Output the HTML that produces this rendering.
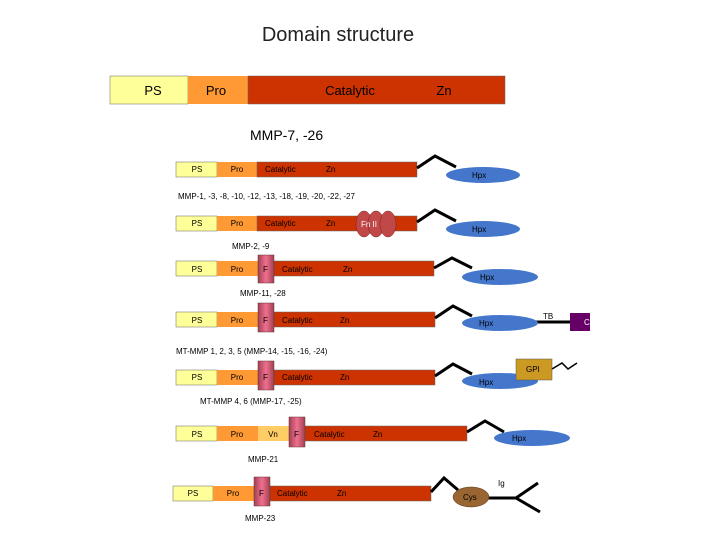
<!DOCTYPE html>
<html><head><meta charset="utf-8"><style>body{margin:0;background:#fff}svg{display:block;font-family:"Liberation Sans",sans-serif}</style></head><body>
<svg width="720" height="540" viewBox="0 0 720 540">
<defs><linearGradient id="f" x1="0" x2="1"><stop offset="0" stop-color="#a04050"/><stop offset=".5" stop-color="#f07090"/><stop offset="1" stop-color="#a04050"/></linearGradient></defs>
<text x="338" y="41" font-size="20" text-anchor="middle" fill="#222">Domain structure</text>
<rect x="110" y="76" width="78" height="28" fill="#ffff99" stroke="#666" stroke-width=".5"/>
<rect x="188" y="76" width="60" height="28" fill="#ff9933"/>
<rect x="248" y="76" width="257" height="28" fill="#cc3300" stroke="#666" stroke-width=".5"/>
<text x="153" y="95" font-size="13" text-anchor="middle">PS</text>
<text x="216" y="95" font-size="13" text-anchor="middle">Pro</text>
<text x="350" y="95" font-size="13" text-anchor="middle">Catalytic</text>
<text x="444" y="95" font-size="13" text-anchor="middle">Zn</text>
<text x="250" y="140" font-size="14">MMP-7, -26</text>
<g font-size="8">
<!-- row1 -->
<g><rect x="176" y="162" width="41" height="15" fill="#ffff99" stroke="#666" stroke-width=".5"/><rect x="217" y="162" width="40" height="15" fill="#ff9933"/><rect x="257" y="162" width="160" height="15" fill="#cc3300" stroke="#666" stroke-width=".5"/>
<text x="197" y="172" text-anchor="middle">PS</text><text x="237" y="172" text-anchor="middle">Pro</text><text x="265" y="172">Catalytic</text><text x="326" y="172">Zn</text>
<polyline points="417,168 435,156 456,167" fill="none" stroke="#000" stroke-width="3"/><ellipse cx="483" cy="175" rx="37" ry="8" fill="#4477cc"/><text x="472" y="178">Hpx</text></g>
<text x="178" y="199">MMP-1, -3, -8, -10, -12, -13, -18, -19, -20, -22, -27</text>
<!-- row2 -->
<g><rect x="176" y="216" width="41" height="15" fill="#ffff99" stroke="#666" stroke-width=".5"/><rect x="217" y="216" width="40" height="15" fill="#ff9933"/><rect x="257" y="216" width="160" height="15" fill="#cc3300" stroke="#666" stroke-width=".5"/>
<text x="197" y="226" text-anchor="middle">PS</text><text x="237" y="226" text-anchor="middle">Pro</text><text x="265" y="226">Catalytic</text><text x="326" y="226">Zn</text>
<ellipse cx="364" cy="224" rx="8" ry="13" fill="#c04848" stroke="#802020" stroke-width=".5"/><ellipse cx="376" cy="224" rx="8" ry="13" fill="#c04848" stroke="#802020" stroke-width=".5"/><ellipse cx="388" cy="224" rx="8" ry="13" fill="#c04848" stroke="#802020" stroke-width=".5"/><text x="361" y="227" fill="#fff">Fn II</text>
<polyline points="417,222 435,210 456,221" fill="none" stroke="#000" stroke-width="3"/><ellipse cx="483" cy="229" rx="37" ry="8" fill="#4477cc"/><text x="472" y="232">Hpx</text></g>
<text x="232" y="249">MMP-2, -9</text>
<!-- row3 -->
<g><rect x="176" y="261" width="41" height="15" fill="#ffff99" stroke="#666" stroke-width=".5"/><rect x="217" y="261" width="41" height="15" fill="#ff9933"/><rect x="274" y="261" width="160" height="15" fill="#cc3300" stroke="#666" stroke-width=".5"/><rect x="258" y="255" width="16" height="28" fill="url(#f)" stroke="#633" stroke-width=".5"/>
<text x="197" y="272" text-anchor="middle">PS</text><text x="237" y="272" text-anchor="middle">Pro</text><text x="263" y="272">F</text><text x="282" y="272">Catalytic</text><text x="343" y="272">Zn</text>
<polyline points="434,268 452,258 472,268" fill="none" stroke="#000" stroke-width="3"/><ellipse cx="500" cy="277" rx="38" ry="8" fill="#4477cc"/><text x="480" y="280">Hpx</text></g>
<text x="240" y="296">MMP-11, -28</text>
<!-- row4 -->
<g><rect x="176" y="312" width="41" height="15" fill="#ffff99" stroke="#666" stroke-width=".5"/><rect x="217" y="312" width="41" height="15" fill="#ff9933"/><rect x="274" y="312" width="161" height="15" fill="#cc3300" stroke="#666" stroke-width=".5"/><rect x="258" y="303" width="16" height="29" fill="url(#f)" stroke="#633" stroke-width=".5"/>
<text x="197" y="323" text-anchor="middle">PS</text><text x="237" y="323" text-anchor="middle">Pro</text><text x="263" y="323">F</text><text x="282" y="323">Catalytic</text><text x="340" y="323">Zn</text>
<polyline points="435,318 453,306 472,316" fill="none" stroke="#000" stroke-width="3"/><line x1="535" y1="322" x2="570" y2="322" stroke="#000" stroke-width="3"/><ellipse cx="500" cy="323" rx="38" ry="8" fill="#4477cc"/><text x="479" y="326">Hpx</text>
<text x="543" y="319">TB</text><rect x="570" y="313" width="20" height="18" fill="#660066"/><text x="584" y="325" fill="#fff">C</text></g>
<text x="176" y="354">MT-MMP 1, 2, 3, 5 (MMP-14, -15, -16, -24)</text>
<!-- row5 -->
<g><rect x="176" y="370" width="41" height="15" fill="#ffff99" stroke="#666" stroke-width=".5"/><rect x="217" y="370" width="41" height="15" fill="#ff9933"/><rect x="274" y="370" width="161" height="15" fill="#cc3300" stroke="#666" stroke-width=".5"/><rect x="258" y="361" width="16" height="29" fill="url(#f)" stroke="#633" stroke-width=".5"/>
<text x="197" y="380" text-anchor="middle">PS</text><text x="237" y="380" text-anchor="middle">Pro</text><text x="263" y="380">F</text><text x="282" y="380">Catalytic</text><text x="340" y="380">Zn</text>
<polyline points="435,376 453,364 472,374" fill="none" stroke="#000" stroke-width="3"/><ellipse cx="500" cy="381" rx="38" ry="8" fill="#4477cc"/><text x="479" y="385">Hpx</text>
<rect x="516" y="359" width="36" height="21" fill="#cc9922" stroke="#555" stroke-width=".5"/><text x="526" y="372">GPI</text>
<polyline points="552,369 562,363 568,369 577,363" fill="none" stroke="#000" stroke-width="1.5"/></g>
<text x="200" y="404">MT-MMP 4, 6 (MMP-17, -25)</text>
<!-- row6 -->
<g><rect x="176" y="426" width="41" height="15" fill="#ffff99" stroke="#666" stroke-width=".5"/><rect x="217" y="426" width="41" height="15" fill="#ff9933"/><rect x="258" y="426" width="31" height="15" fill="#ffcc66"/><rect x="305" y="426" width="162" height="15" fill="#cc3300" stroke="#666" stroke-width=".5"/><rect x="289" y="417" width="16" height="30" fill="url(#f)" stroke="#633" stroke-width=".5"/>
<text x="197" y="437" text-anchor="middle">PS</text><text x="237" y="437" text-anchor="middle">Pro</text><text x="273" y="437" text-anchor="middle">Vn</text><text x="294" y="437">F</text><text x="314" y="437">Catalytic</text><text x="373" y="437">Zn</text>
<polyline points="467,432 485,421 504,432" fill="none" stroke="#000" stroke-width="3"/><ellipse cx="532" cy="438" rx="38" ry="8" fill="#4477cc"/><text x="512" y="441">Hpx</text></g>
<text x="248" y="462">MMP-21</text>
<!-- row7 -->
<g><rect x="173" y="486" width="40" height="15" fill="#ffff99" stroke="#666" stroke-width=".5"/><rect x="213" y="486" width="41" height="15" fill="#ff9933"/><rect x="270" y="486" width="161" height="15" fill="#cc3300" stroke="#666" stroke-width=".5"/><rect x="254" y="477" width="16" height="29" fill="url(#f)" stroke="#633" stroke-width=".5"/>
<text x="193" y="496" text-anchor="middle">PS</text><text x="233" y="496" text-anchor="middle">Pro</text><text x="259" y="496">F</text><text x="277" y="496">Catalytic</text><text x="337" y="496">Zn</text>
<polyline points="431,492 444,478 458,490" fill="none" stroke="#000" stroke-width="3"/><line x1="488" y1="498" x2="516" y2="498" stroke="#000" stroke-width="3"/><line x1="516" y1="498" x2="538" y2="483" stroke="#000" stroke-width="3"/><line x1="516" y1="498" x2="540" y2="512" stroke="#000" stroke-width="3"/>
<ellipse cx="471" cy="497" rx="18" ry="10" fill="#996633" stroke="#553311" stroke-width=".5"/><text x="463" y="500">Cys</text><text x="498" y="486">Ig</text></g>
<text x="245" y="521">MMP-23</text>
</g>
</svg>
</body></html>
